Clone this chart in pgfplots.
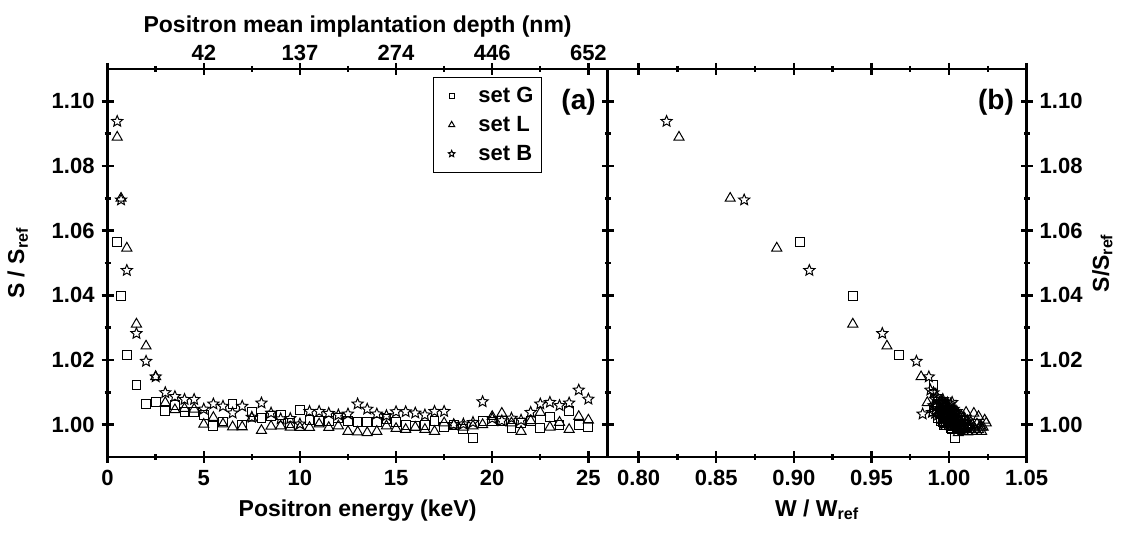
\documentclass[border=0pt]{standalone}
\usepackage{fontspec}
\setmainfont{Liberation Sans}
\usepackage{pgfplots}
\pgfplotsset{compat=1.18}
\usepackage{pgfplotstable}

\pgfdeclareplotmark{ostar}{%
  \pgfpathmoveto{\pgfpointpolar{90}{\pgfplotmarksize}}%
  \pgfpathlineto{\pgfpointpolar{126}{0.45\pgfplotmarksize}}%
  \pgfpathlineto{\pgfpointpolar{162}{\pgfplotmarksize}}%
  \pgfpathlineto{\pgfpointpolar{198}{0.45\pgfplotmarksize}}%
  \pgfpathlineto{\pgfpointpolar{234}{\pgfplotmarksize}}%
  \pgfpathlineto{\pgfpointpolar{270}{0.45\pgfplotmarksize}}%
  \pgfpathlineto{\pgfpointpolar{306}{\pgfplotmarksize}}%
  \pgfpathlineto{\pgfpointpolar{342}{0.45\pgfplotmarksize}}%
  \pgfpathlineto{\pgfpointpolar{18}{\pgfplotmarksize}}%
  \pgfpathlineto{\pgfpointpolar{54}{0.45\pgfplotmarksize}}%
  \pgfpathclose
  \pgfusepathqstroke
}

% set G (squares): energy, S, W
\pgfplotstableread{
E S W
0.5 1.0566 0.904
0.7 1.0399 0.938
1.0 1.0215 0.968
1.5 1.0123 0.990
2.0 1.0065 0.993
2.5 1.0069 0.995
3.0 1.0042 0.990
3.5 1.0060 0.997
4.0 1.0038 0.994
4.5 1.0040 0.999
5.0 1.0029 0.996
5.5 0.9995 1.002
6.0 1.0010 0.998
6.5 1.0065 0.996
7.0 0.9998 1.004
7.5 1.0040 1.001
8.0 1.0020 0.993
8.5 1.0026 1.000
9.0 1.0030 1.003
9.5 1.0005 0.997
10.0 1.0045 0.999
10.5 1.0015 1.005
11.0 1.0012 0.995
11.5 1.0012 1.002
12.0 1.0020 1.007
12.5 1.0012 0.999
13.0 1.0009 1.003
13.5 1.0009 0.996
14.0 1.0007 1.006
14.5 1.0018 1.001
15.0 1.0007 0.998
15.5 0.9999 1.004
16.0 0.9997 1.008
16.5 1.0000 1.000
17.0 1.0012 1.009
17.5 0.9992 1.005
18.0 1.0000 0.997
18.5 0.9987 1.002
19.0 0.9958 1.004
19.5 1.0012 1.000
20.0 1.0010 1.006
20.5 1.0012 1.010
21.0 0.9989 1.007
21.5 1.0005 0.998
22.0 1.0012 1.003
22.5 0.9990 1.001
23.0 1.0023 0.999
23.5 0.9998 1.011
24.0 1.0042 0.992
24.5 1.0000 1.005
25.0 0.9994 1.009
}\setG

% set L (triangles)
\pgfplotstableread{
E S W
0.5 1.0889 0.826
0.7 1.0700 0.859
1.0 1.0546 0.889
1.5 1.0311 0.938
2.0 1.0243 0.960
2.5 1.0148 0.982
3.0 1.0068 0.986
3.5 1.0046 0.996
4.0 1.0050 0.999
4.5 1.0048 1.002
5.0 1.0001 1.006
5.5 1.0022 1.004
6.0 1.0002 1.009
6.5 0.9993 1.012
7.0 0.9993 1.008
7.5 1.0020 1.010
8.0 0.9982 1.007
8.5 0.9995 1.013
9.0 0.9996 1.005
9.5 0.9992 1.016
10.0 0.9991 1.010
10.5 0.9991 1.003
11.0 1.0002 1.018
11.5 0.9991 1.008
12.0 0.9996 1.014
12.5 0.9979 1.009
13.0 0.9977 1.012
13.5 0.9975 1.006
14.0 0.9979 1.015
14.5 0.9996 1.020
15.0 0.9988 1.011
15.5 0.9985 1.017
16.0 0.9992 1.004
16.5 0.9985 1.013
17.0 0.9979 1.018
17.5 1.0005 1.024
18.0 0.9999 1.007
18.5 0.9992 1.021
19.0 0.9996 1.010
19.5 1.0000 1.015
20.0 1.0025 1.019
20.5 1.0035 1.016
21.0 1.0005 1.001
21.5 0.9979 1.021
22.0 1.0012 1.012
22.5 1.0038 1.011
23.0 0.9992 1.022
23.5 1.0007 1.014
24.0 0.9985 1.019
24.5 1.0025 1.008
25.0 1.0014 1.023
}\setL

% set B (stars)
\pgfplotstableread{
E S W
0.5 1.0938 0.818
0.7 1.0695 0.868
1.0 1.0477 0.910
1.5 1.0282 0.957
2.0 1.0196 0.979
2.5 1.0148 0.987
3.0 1.0099 0.990
3.5 1.0087 0.992
4.0 1.0078 0.993
4.5 1.0078 0.996
5.0 1.0048 0.998
5.5 1.0064 0.994
6.0 1.0057 0.997
6.5 1.0036 1.000
7.0 1.0057 0.992
7.5 1.0023 1.003
8.0 1.0067 0.999
8.5 1.0036 0.995
9.0 1.0018 1.002
9.5 1.0019 0.998
10.0 1.0002 1.001
10.5 1.0041 0.997
11.0 1.0041 1.004
11.5 1.0035 0.991
12.0 1.0030 0.999
12.5 1.0033 1.006
13.0 1.0064 1.001
13.5 1.0048 1.003
14.0 1.0033 0.983
14.5 1.0028 0.996
15.0 1.0040 0.994
15.5 1.0040 1.000
16.0 1.0036 1.002
16.5 1.0030 0.993
17.0 1.0041 0.998
17.5 1.0041 1.005
18.0 1.0000 1.000
18.5 1.0002 0.997
19.0 1.0007 1.003
19.5 1.0071 0.996
20.0 1.0019 0.995
20.5 1.0012 1.004
21.0 1.0020 0.999
21.5 1.0014 1.002
22.0 1.0038 0.989
22.5 1.0064 0.997
23.0 1.0069 1.002
23.5 1.0059 0.990
24.0 1.0067 0.995
24.5 1.0107 0.988
25.0 1.0079 0.991
}\setB

\begin{document}
\begin{tikzpicture}
\path[use as bounding box] (-53.8pt,-41pt) rectangle (508.2pt,228.5pt);
\pgfplotsset{
  base/.style={
    scale only axis, height=194pt,
    ymin=0.99, ymax=1.11,
    ytick={1.00,1.02,1.04,1.06,1.08,1.10},
    minor y tick num=1,
    tick align=center,
    major tick length=6pt, minor tick length=3pt,
    axis line style={line width=1.2pt},
    every tick/.style={black, line width=1.2pt},
    /pgf/number format/assume math mode=true,
    tick label style={font=\fontsize{11}{13}\selectfont\bfseries},
    label style={font=\fontsize{11.5}{14}\selectfont\bfseries},
    yticklabel style={/pgf/number format/fixed, /pgf/number format/fixed zerofill, /pgf/number format/precision=2},
    clip=false,
  },
  gset/.style={only marks, black, mark=square, mark size=2.2pt, mark options={line width=0.5pt, solid}},
  lset/.style={only marks, black, mark=triangle, mark size=2.9pt, mark options={line width=0.5pt, solid}},
  bset/.style={only marks, black, mark=ostar, mark size=2.9pt, mark options={line width=0.5pt, solid}},
}
% left panel
\begin{axis}[base, at={(0,0)}, anchor=south west, width=250pt,
  xmin=0, xmax=26, xtick={0,5,10,15,20,25}, minor x tick num=1,
  xtick pos=bottom, ytick pos=both,
  xlabel={Positron energy (keV)}, ylabel={S / S\textsubscript{ref}},
  ylabel style={yshift=5pt},
  legend style={at={(0.869,0.980)}, anchor=north east, draw=black, line width=0.6pt,
    font=\fontsize{11}{13}\selectfont\bfseries, row sep=2pt, inner sep=3pt,
    nodes={inner sep=1pt, text height=8.5pt, text depth=2pt},
    /tikz/every odd column/.append style={column sep=5pt}},
  legend cell align=left,
  legend image code/.code={%
    \path[draw=none] (0cm,0cm) -- (0.48cm,0cm);
    \path[#1, draw=none, /tikz/only marks, /tikz/every mark/.append style={scale=0.6, draw=black}] plot coordinates {(0.22cm,0cm)};},
]
\addplot[gset] table[x=E,y=S]{\setG}; \addlegendentry{set G}
\addplot[lset] table[x=E,y=S]{\setL}; \addlegendentry{set L}
\addplot[bset] table[x=E,y=S]{\setB}; \addlegendentry{set B}
\node[font=\fontsize{14}{16}\selectfont\bfseries] at (rel axis cs:0.942,0.914) {(a)};
\end{axis}
% top axis of left panel
\begin{axis}[base, at={(0,0)}, anchor=south west, width=250pt,
  xmin=0, xmax=26, axis x line*=top, axis y line=none,
  xtick={0,5,10,15,20,25}, xticklabels={,42,137,274,446,652}, minor x tick num=1,
  xticklabel style={yshift=-2.5pt},
  xlabel={Positron mean implantation depth (nm)},
  xlabel style={yshift=-3pt},
]
\addplot[draw=none] coordinates {(1,1.0)};
\end{axis}
% right panel
\begin{axis}[base, at={(250pt,0)}, anchor=south west, width=209.5pt,
  xmin=0.78, xmax=1.05, xtick={0.80,0.85,0.90,0.95,1.00,1.05}, minor x tick num=1,
  xtick pos=both, ytick pos=right, yticklabel pos=right,
  xticklabel style={/pgf/number format/fixed, /pgf/number format/fixed zerofill, /pgf/number format/precision=2},
  xlabel={W / W\textsubscript{ref}}, ylabel={S/S\textsubscript{ref}},
  ylabel style={yshift=2pt},
]
\addplot[gset] table[x=W,y=S]{\setG};
\addplot[lset] table[x=W,y=S]{\setL};
\addplot[bset] table[x=W,y=S]{\setB};
\node[font=\fontsize{14}{16}\selectfont\bfseries] at (rel axis cs:0.927,0.914) {(b)};
\end{axis}
\end{tikzpicture}
\end{document}
